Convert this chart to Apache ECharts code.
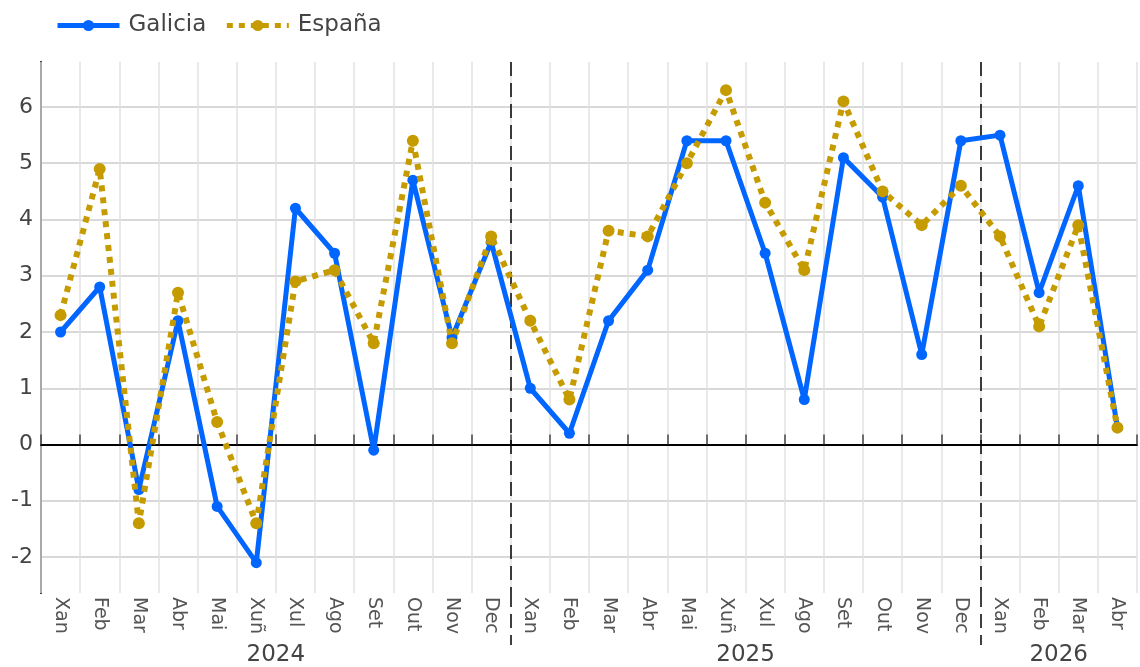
<!DOCTYPE html>
<html>
<head>
<meta charset="utf-8">
<script src="https://cdn.jsdelivr.net/npm/echarts@6/dist/echarts.min.js"></script>
<style>
  html, body { margin: 0; padding: 0; background: #fff; }
  #chart { width: 1140px; height: 667px; }
</style>
</head>
<body>
<div id="chart"></div>
<script>
var months = ["Xan", "Feb", "Mar", "Abr", "Mai", "Xuñ", "Xul", "Ago", "Set", "Out", "Nov", "Dec",
              "Xan", "Feb", "Mar", "Abr", "Mai", "Xuñ", "Xul", "Ago", "Set", "Out", "Nov", "Dec",
              "Xan", "Feb", "Mar", "Abr"];
var galicia = [2.0, 2.8, -0.8, 2.2, -1.1, -2.1, 4.2, 3.4, -0.1, 4.7, 1.9, 3.6,
               1.0, 0.2, 2.2, 3.1, 5.4, 5.4, 3.4, 0.8, 5.1, 4.4, 1.6, 5.4,
               5.5, 2.7, 4.6, 0.3];
var espana = [2.3, 4.9, -1.4, 2.7, 0.4, -1.4, 2.9, 3.1, 1.8, 5.4, 1.8, 3.7,
              2.2, 0.8, 3.8, 3.7, 5.0, 6.3, 4.3, 3.1, 6.1, 4.5, 3.9, 4.6,
              3.7, 2.1, 3.9, 0.3];
var yTicks = [-2, -1, 0, 1, 2, 3, 4, 5, 6];
// year label sits at the middle of its months; separators at the first month
var yearLabels = { 6: "2024", 18: "2025", 26: "2026" };
var yearStarts = [12, 24];

var font = "DejaVu Sans";
var chart = echarts.init(document.getElementById('chart'));

var option = {
  animation: false,
  textStyle: { fontFamily: font },
  legend: {
    left: 50, top: 9,
    itemWidth: 62, itemHeight: 14, itemGap: 18,
    lineStyle: { width: 5 },
    textStyle: { fontSize: 23, color: '#444', fontFamily: font, padding: [0, 0, 0, 4] },
    data: ['Galicia', 'España']
  },
  grid: { left: 41, right: 0, top: 62, bottom: 72 },
  xAxis: [
    {
      type: 'category',
      data: months,
      boundaryGap: true,
      axisLine: { lineStyle: { color: '#000', width: 2 } },
      axisTick: { show: true, inside: true, length: 10, interval: 0, lineStyle: { color: '#444', width: 1.5 } },
      axisLabel: { rotate: -90, interval: 0, fontSize: 19, color: '#555', margin: 4, fontFamily: font },
      splitLine: { show: true, interval: 0, lineStyle: { color: '#e2e2e2', width: 1.5 } },
      z: 1
    },
    {
      // year separators
      type: 'value',
      min: 0, max: months.length, interval: 12,
      position: 'bottom',
      axisLine: { show: false },
      axisLabel: { show: false },
      axisTick: {
        show: true, length: 52, customValues: yearStarts,
        lineStyle: { color: '#000', width: 1.5, type: [14, 7] }
      },
      splitLine: {
        show: true,
        lineStyle: { color: '#000', width: 1.5, type: [14, 7] }
      },
      z: 2
    },
    {
      // year labels
      type: 'value',
      min: 0, max: months.length, interval: 2,
      position: 'bottom',
      axisLine: { show: false },
      axisTick: { show: false },
      splitLine: { show: false },
      axisLabel: {
        margin: 51, fontSize: 23, color: '#444', fontFamily: font,
        showMinLabel: true, showMaxLabel: true,
        formatter: function (v) { return yearLabels[v] || ''; }
      }
    }
  ],
  yAxis: {
    type: 'value',
    min: -2.64, max: 6.8,
    axisLine: { show: true, lineStyle: { color: '#000', width: 2 } },
    axisTick: { show: false },
    splitLine: { show: false },
    axisLabel: {
      customValues: yTicks,
      fontSize: 22, color: '#444', margin: 8, fontFamily: font
    }
  },
  series: [
    {
      name: 'Galicia',
      type: 'line',
      data: galicia,
      symbol: 'circle',
      symbolSize: 11,
      itemStyle: { color: '#0066ff' },
      lineStyle: { color: '#0066ff', width: 5 },
      z: 3,
      markLine: {
        silent: true,
        symbol: 'none',
        z: 0,
        label: { show: false },
        data: yTicks.map(function (v) {
          return {
            yAxis: v,
            lineStyle: { color: v === 0 ? '#444' : '#cccccc', width: v === 0 ? 2 : 1.5, type: 'solid' }
          };
        })
      }
    },
    {
      name: 'España',
      type: 'line',
      data: espana,
      symbol: 'circle',
      symbolSize: 12,
      itemStyle: { color: '#c59b00' },
      lineStyle: { color: '#c59b00', width: 6, type: [6, 6] },
      z: 4
    }
  ]
};

chart.setOption(option);
</script>
</body>
</html>
